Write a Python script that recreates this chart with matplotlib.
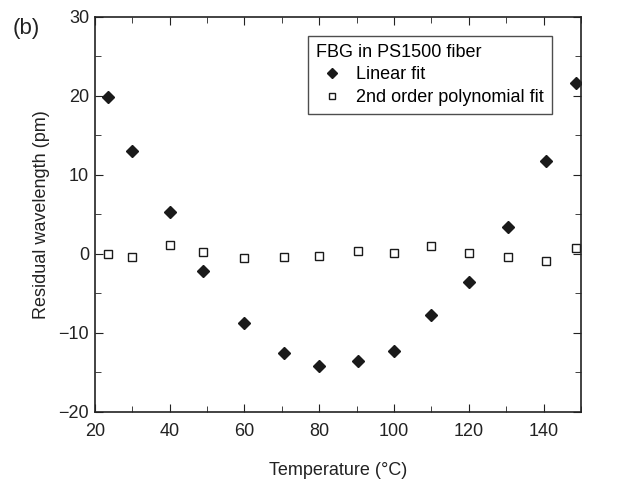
import numpy as np
import matplotlib.pyplot as plt
from matplotlib.ticker import MultipleLocator

plt.rcParams['font.family'] = ['Liberation Sans', 'DejaVu Sans']

# Temperatura y residuos
temp = [23.6, 30, 40, 49, 60, 70.5, 80, 90.5, 100, 110, 120, 130.5, 140.5, 148.5]
lineal = [19.9, 13.0, 5.35, -2.2, -8.8, -12.5, -14.2, -13.6, -12.35, -7.7, -3.5, 3.35, 11.7, 21.7]
polinomio = [0.0, -0.33, 1.1, 0.2, -0.5, -0.45, -0.25, 0.4, 0.1, 1.05, 0.15, -0.4, -0.85, 0.75]

fig = plt.figure(figsize=(6.4, 4.84), dpi=100)
ax = fig.add_axes([0.148, 0.149, 0.76, 0.816])

ax.plot(temp, lineal, 'D', color='#1a1a1a', markersize=6, linestyle='none', label='Linear fit')
ax.plot(temp, polinomio, 's', markerfacecolor='white', markeredgecolor='#1a1a1a',
        markeredgewidth=1.0, markersize=5.2, linestyle='none', label='2nd order polynomial fit')

ax.set_xlim(20, 150)
ax.set_ylim(-20, 30)
ax.xaxis.set_major_locator(MultipleLocator(20))
ax.xaxis.set_minor_locator(MultipleLocator(10))
ax.yaxis.set_major_locator(MultipleLocator(10))
ax.yaxis.set_minor_locator(MultipleLocator(5))
ax.tick_params(which='both', direction='in', top=True, right=True, labelsize=13, colors='#222222')
ax.tick_params(which='major', length=6)
ax.tick_params(which='minor', length=4)
ax.tick_params(axis='x', pad=8)
ax.tick_params(axis='y', pad=4)
ax.set_yticks([-20, -10, 0, 10, 20, 30])
ax.set_yticklabels(['\u221220', '\u221210', '0', '10', '20', '30'])
for s in ax.spines.values():
    s.set_linewidth(1.2)
    s.set_color('#222222')

ax.set_xlabel('Temperature (\u00b0C)', fontsize=13, labelpad=16, color='#222222')
ax.set_ylabel('Residual wavelength (pm)', fontsize=13, labelpad=6, color='#222222')

leg = ax.legend(title='FBG in PS1500 fiber', loc='upper right', bbox_to_anchor=(0.94, 0.952),
                borderaxespad=0, fontsize=13, title_fontsize=13, frameon=True, fancybox=False,
                edgecolor='#222222', handletextpad=0.5, borderpad=0.45, labelspacing=0.3,
                handlelength=1.7, markerscale=0.8)
leg.get_frame().set_linewidth(1.0)
leg._legend_box.align = 'left'

fig.text(0.02, 0.942, '(b)', fontsize=16, color='#222222', va='center')

plt.savefig('out.png', dpi=100)
